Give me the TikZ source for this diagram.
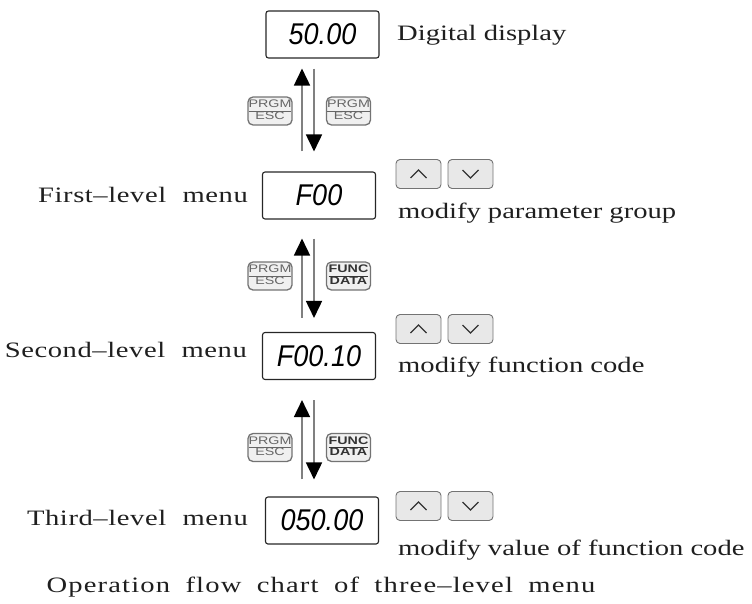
\documentclass[tikz,border=0pt]{standalone}
\usepackage{fontspec}
\usepackage{graphicx}
\usetikzlibrary{arrows.meta}
\setmainfont{Liberation Serif}
\newfontfamily\lblfamily{Liberation Serif}[LetterSpace=2]
\newfontfamily\capfamily{Liberation Serif}[LetterSpace=4]
\newfontfamily\descfamily{Liberation Serif}
\newfontfamily\dispfamily{Liberation Sans}
\newfontfamily\keyfamily{Liberation Sans}
\newcommand{\lbltext}[1]{\scalebox{1.3}[1]{\fontsize{22}{24}\lblfamily #1}}
\newcommand{\captext}[1]{\scalebox{1.3}[1]{\fontsize{22}{24}\capfamily #1}}
\newcommand{\desctext}[1]{\scalebox{1.3}[1]{\fontsize{22}{24}\descfamily #1}}
\newcommand{\disptext}[1]{\scalebox{0.9}[1]{\fontsize{30}{32}\dispfamily\itshape #1}}
\newcommand{\keytext}[2]{\scalebox{1.3}[1]{\fontsize{11}{11}\keyfamily\setlength{\arrayrulewidth}{0.9pt}\renewcommand{\arraystretch}{0.85}\begin{tabular}{@{}c@{}}#1\\\hline #2\end{tabular}}}
\begin{document}
\begin{tikzpicture}[x=1pt,y=-1pt,
  dispbox/.style={draw=black!85, line width=1.1pt, rounded corners=2.5pt, minimum width=113pt, minimum height=47pt, inner sep=0pt},
  lbl/.style={inner sep=0pt, text=black!88},
  desc/.style={inner sep=0pt, anchor=west, text=black!88},
  arrowkey/.style={draw=black!55, fill=black!9, line width=0.9pt, rounded corners=4pt, minimum width=45pt, minimum height=29pt, inner sep=0pt},
  chev/.style={draw=black!80, line width=1.1pt},
  fkey/.style={draw=black!55, fill=black!6, line width=1.3pt, rounded corners=5pt, minimum width=44pt, minimum height=28pt, inner sep=0pt},
  prgmtext/.style={text=black!60},
  functext/.style={text=black!80, font=\bfseries},
  updn/.style={draw=black!50, line width=1.7pt, -{Triangle[width=16pt,length=17pt,color=black]}},
]
\useasboundingbox (0,0) rectangle (752,603);

% display boxes
\node[dispbox] (d1) at (322.5,34.5) {\disptext{50.00}};
\node[dispbox] (d2) at (319,195.5) {\disptext{F00}};
\node[dispbox] (d3) at (319,356) {\disptext{F00.10}};
\node[dispbox] (d4) at (322,520.5) {\disptext{050.00}};

% labels
\node[lbl, anchor=west] (t1) at (397,35) {\desctext{Digital display}};
\node[lbl, anchor=east] (t2) at (248,195) {\lbltext{First–level\hspace{0.3em} menu}};
\node[lbl, anchor=east] (t3) at (247,350) {\lbltext{Second–level\hspace{0.3em} menu}};
\node[lbl, anchor=east] (t4) at (248,518) {\lbltext{Third–level\hspace{0.3em} menu}};

% arrow x positions
\coordinate (xu) at (302,0);
\coordinate (xd) at (314,0);

% connectors between levels
\draw[updn, shorten <=20pt, shorten >=10pt] (d2.north -| xu) -- (d1.south -| xu);
\draw[updn, shorten <=10pt, shorten >=20pt] (d1.south -| xd) -- (d2.north -| xd);
\draw[updn, shorten <=14pt, shorten >=19pt] (d3.north -| xu) -- (d2.south -| xu);
\draw[updn, shorten <=19pt, shorten >=14pt] (d2.south -| xd) -- (d3.north -| xd);
\draw[updn, shorten <=17pt, shorten >=20pt] (d4.north -| xu) -- (d3.south -| xu);
\draw[updn, shorten <=20pt, shorten >=17pt] (d3.south -| xd) -- (d4.north -| xd);

% function keys
\node[fkey, prgmtext] (k1a) at (270,111) {\keytext{PRGM}{ESC}};
\node[fkey, prgmtext] (k1b) at (348.5,111) {\keytext{PRGM}{ESC}};
\node[fkey, prgmtext] (k2a) at (270,276) {\keytext{PRGM}{ESC}};
\node[fkey, functext] (k2b) at (348.5,276) {\keytext{FUNC}{DATA}};
\node[fkey, prgmtext] (k3a) at (270,447.5) {\keytext{PRGM}{ESC}};
\node[fkey, functext] (k3b) at (348.5,447.5) {\keytext{FUNC}{DATA}};

% up/down keys and descriptions
\foreach \n/\y/\ty/\txt in {2/174/213/{modify parameter group}, 3/329/367/{modify function code}, 4/506/550/{modify value of function code}}{
  \node[arrowkey] (u\n) at (418.5,\y) {};
  \node[arrowkey] (v\n) at (470.5,\y) {};
  \draw[chev] ([xshift=-8pt,yshift=-4pt]u\n.center) -- ([yshift=4pt]u\n.center) -- ([xshift=8pt,yshift=-4pt]u\n.center);
  \draw[chev] ([xshift=-8pt,yshift=4pt]v\n.center) -- ([yshift=-4pt]v\n.center) -- ([xshift=8pt,yshift=4pt]v\n.center);
  \node[desc] (m\n) at (398,\ty) {\desctext{\txt}};
}

% caption
\node[lbl] (cap) at (321,587) {\captext{Operation\hspace{0.25em} flow\hspace{0.25em} chart\hspace{0.25em} of\hspace{0.25em} three–level\hspace{0.25em} menu}};
\end{tikzpicture}
\end{document}
